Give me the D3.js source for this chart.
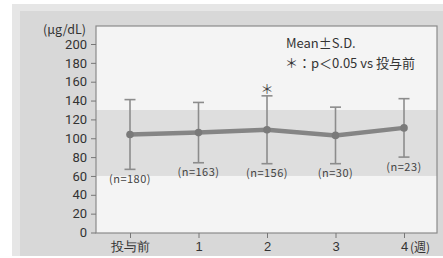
<!DOCTYPE html>
<html>
<head>
<meta charset="utf-8">
<script src="https://cdn.jsdelivr.net/npm/d3@7"></script>
<style>
  body { margin: 0; background: #fff; }
  svg { display: block; font-family: "Noto Sans CJK JP", "Noto Sans", sans-serif; }
</style>
</head>
<body>
<svg></svg>
<script>
var width = 443;
var height = 258;

// weeks on X
var categories = ["投与前", "1", "2", "3", "4"];
// mean and S.D.
var means = [104, 106, 109, 103, 111];
var sds = [37, 32, 36, 30, 31];
var nLabels = ["(n=180)", "(n=163)", "(n=156)", "(n=30)", "(n=23)"];
var starred = [false, false, true, false, false];
var yTicks = [0, 20, 40, 60, 80, 100, 120, 140, 160, 180, 200];
var band = [60, 130];

var data = categories.map(function(c, i) {
    return { cat: c, mean: means[i], sd: sds[i], n: nLabels[i], star: starred[i] };
});

var box = { left: 96, right: 437, top: 26, bottom: 233 };

var xScale = d3.scalePoint()
    .domain(categories)
    .range([130, 404]);

var yScale = d3.scaleLinear()
    .domain([0, 200])
    .range([232.5, 44]);

var svg = d3.select("svg")
    .attr("width", width)
    .attr("height", height);

// grey panel with a little bevel
svg.append("rect")
    .attr("x", 12).attr("y", 4)
    .attr("width", width - 12).attr("height", 252)
    .attr("fill", "#d8d8d8");
svg.append("polygon")
    .attr("points", "12,4 443,4 443,11 20,11 20,256 12,256")
    .attr("fill", "#e6e6e6");

// plot box
svg.append("rect")
    .attr("x", box.left).attr("y", box.top)
    .attr("width", box.right - box.left).attr("height", box.bottom - box.top)
    .attr("fill", "#f4f4f4");

// reference band
svg.append("rect")
    .attr("x", box.left).attr("y", yScale(band[1]))
    .attr("width", box.right - box.left)
    .attr("height", yScale(band[0]) - yScale(band[1]))
    .attr("fill", "#dedede");

svg.append("rect")
    .attr("x", box.left).attr("y", box.top)
    .attr("width", box.right - box.left).attr("height", box.bottom - box.top)
    .attr("fill", "none")
    .attr("stroke", "#8a8a8a")
    .attr("stroke-width", 1.2);

// axes
var yAxis = d3.axisLeft(yScale)
    .tickValues(yTicks)
    .tickSize(5)
    .tickPadding(4);
var gy = svg.append("g")
    .attr("transform", "translate(" + box.left + ",0)")
    .call(yAxis);
gy.select(".domain").remove();
gy.selectAll("line").attr("stroke", "#777");
gy.selectAll("text")
    .attr("fill", "#333")
    .style("font-size", "13px")
    .style("font-family", "Roboto, 'Noto Sans', sans-serif");

var xAxis = d3.axisBottom(xScale)
    .tickSize(5)
    .tickPadding(4);
var gx = svg.append("g")
    .attr("transform", "translate(0," + box.bottom + ")")
    .call(xAxis);
gx.select(".domain").remove();
gx.selectAll("line").attr("stroke", "#777");
gx.selectAll("text")
    .attr("fill", "#333")
    .style("font-size", "13px");

svg.append("text")
    .attr("x", xScale("4") + 6)
    .attr("y", 252)
    .attr("fill", "#333")
    .style("font-size", "12px")
    .text("(週)");

svg.append("text")
    .attr("x", 86)
    .attr("y", 34)
    .attr("text-anchor", "end")
    .attr("fill", "#333")
    .style("font-size", "12.5px")
    .text("(μg/dL)");

// error bars
var bars = svg.selectAll(".err")
    .data(data)
    .enter()
    .append("g")
    .attr("class", "err")
    .attr("stroke", "#8c8c8c")
    .attr("stroke-width", 1.6);
bars.append("line")
    .attr("x1", function(d) { return xScale(d.cat); })
    .attr("x2", function(d) { return xScale(d.cat); })
    .attr("y1", function(d) { return yScale(d.mean + d.sd); })
    .attr("y2", function(d) { return yScale(d.mean - d.sd); });
bars.append("line")
    .attr("x1", function(d) { return xScale(d.cat) - 5.5; })
    .attr("x2", function(d) { return xScale(d.cat) + 5.5; })
    .attr("y1", function(d) { return yScale(d.mean + d.sd); })
    .attr("y2", function(d) { return yScale(d.mean + d.sd); });
bars.append("line")
    .attr("x1", function(d) { return xScale(d.cat) - 5.5; })
    .attr("x2", function(d) { return xScale(d.cat) + 5.5; })
    .attr("y1", function(d) { return yScale(d.mean - d.sd); })
    .attr("y2", function(d) { return yScale(d.mean - d.sd); });

// mean line
var line = d3.line()
    .x(function(d) { return xScale(d.cat); })
    .y(function(d) { return yScale(d.mean); });
svg.append("path")
    .datum(data)
    .attr("d", line)
    .attr("fill", "none")
    .attr("stroke", "#858585")
    .attr("stroke-width", 4.5)
    .attr("stroke-linejoin", "round");

svg.selectAll(".pt")
    .data(data)
    .enter()
    .append("circle")
    .attr("class", "pt")
    .attr("cx", function(d) { return xScale(d.cat); })
    .attr("cy", function(d) { return yScale(d.mean); })
    .attr("r", 3.8)
    .attr("fill", "#7a7a7a");

// n labels under the bars
svg.selectAll(".nlab")
    .data(data)
    .enter()
    .append("text")
    .attr("class", "nlab")
    .attr("x", function(d) { return xScale(d.cat); })
    .attr("y", function(d) { return yScale(d.mean - d.sd) + 13.5; })
    .attr("text-anchor", "middle")
    .attr("fill", "#444")
    .style("font-size", "11px")
    .style("letter-spacing", "0.5px")
    .text(function(d) { return d.n; });

svg.selectAll(".star")
    .data(data.filter(function(d) { return d.star; }))
    .enter()
    .append("text")
    .attr("class", "star")
    .attr("x", function(d) { return xScale(d.cat); })
    .attr("y", function(d) { return yScale(d.mean + d.sd) - 2; })
    .attr("text-anchor", "middle")
    .attr("fill", "#444")
    .style("font-size", "13px")
    .text("＊");

// legend
svg.append("text")
    .attr("x", 286).attr("y", 48)
    .attr("fill", "#333")
    .style("font-size", "13px")
    .text("Mean±S.D.");
svg.append("text")
    .attr("x", 285).attr("y", 68)
    .attr("fill", "#333")
    .style("font-size", "13px")
    .text("＊：p＜0.05 vs 投与前");
</script>
</body>
</html>
